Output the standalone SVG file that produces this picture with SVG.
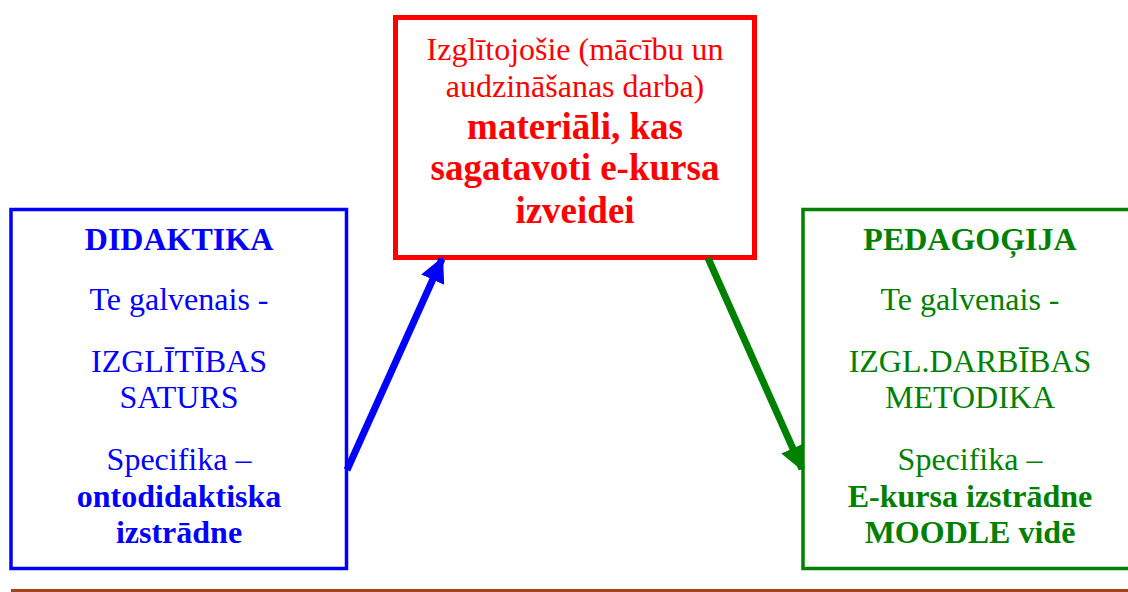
<svg xmlns="http://www.w3.org/2000/svg" width="1128" height="592" viewBox="0 0 1128 592">
<style>
text{font-family:"Liberation Serif","Times New Roman",serif;text-anchor:middle;font-size:32px}
.b{font-weight:bold}
.big{font-size:37px;font-weight:bold}
.box{fill:#fff}
</style>
<defs>
<marker id="ah-blue" viewBox="0 0 10 10" refX="9" refY="5" markerWidth="3.6" markerHeight="3.6" markerUnits="strokeWidth" orient="auto"><path d="M0,0 L10,5 L0,10 z" fill="#0000FF"/></marker>
<marker id="ah-green" viewBox="0 0 10 10" refX="9" refY="5" markerWidth="3.6" markerHeight="3.6" markerUnits="strokeWidth" orient="auto"><path d="M0,0 L10,5 L0,10 z" fill="#008000"/></marker>
</defs>
<rect x="0" y="0" width="1128" height="592" fill="#fff"/>
<g id="center">
<rect class="box" x="395.5" y="17.5" width="359" height="240" stroke="#FF0000" stroke-width="5"/>
<g fill="#FF0000">
<text x="575" y="60">Izglītojošie (mācību un</text>
<text x="575" y="97">audzināšanas darba)</text>
<text class="big" x="575" y="139">materiāli, kas</text>
<text class="big" x="575" y="180">sagatavoti e-kursa</text>
<text class="big" x="575" y="223">izveidei</text>
</g>
</g>
<g id="didaktika">
<rect class="box" x="11" y="209.5" width="335.5" height="359" stroke="#0000FF" stroke-width="3.5"/>
<g fill="#0000FF">
<text class="b" x="179" y="250">DIDAKTIKA</text>
<text x="179" y="310">Te galvenais -</text>
<text x="179" y="372">IZGLĪTĪBAS</text>
<text x="179" y="408">SATURS</text>
<text x="179" y="470">Specifika –</text>
<text class="b" x="179" y="507">ontodidaktiska</text>
<text class="b" x="179" y="543">izstrādne</text>
</g>
</g>
<g id="pedagogija">
<rect class="box" x="803" y="209.5" width="334" height="359" stroke="#008000" stroke-width="3.5"/>
<g fill="#008000">
<text class="b" x="970" y="250">PEDAGOĢIJA</text>
<text x="970" y="310">Te galvenais -</text>
<text x="970" y="372">IZGL.DARBĪBAS</text>
<text x="970" y="408">METODIKA</text>
<text x="970" y="470">Specifika –</text>
<text class="b" x="970" y="507">E-kursa izstrādne</text>
<text class="b" x="970" y="543">MOODLE vidē</text>
</g>
</g>
<g id="connectors" fill="none" stroke-width="7">
<line x1="347" y1="470" x2="442" y2="259" stroke="#0000FF" marker-end="url(#ah-blue)"/>
<line x1="708" y1="258" x2="802" y2="469" stroke="#008000" marker-end="url(#ah-green)"/>
</g>
<rect x="11" y="589" width="1117" height="3" fill="#A3441A"/>
</svg>
